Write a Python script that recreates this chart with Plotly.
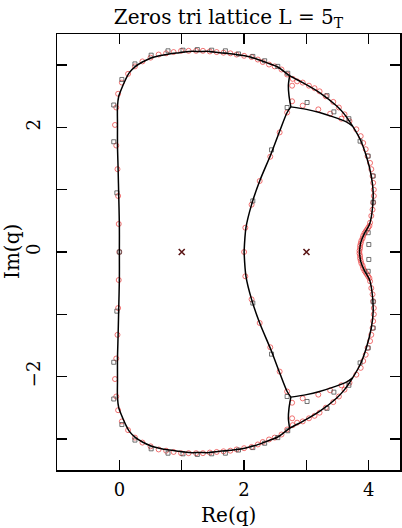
import plotly.graph_objects as go

# ---------------- data ----------------
# limiting curve, outer boundary: upper half and lower half
outer_x_up = [0.00, 0.00, -0.01, -0.02, -0.03, -0.03, -0.03, -0.01, 0.03, 0.10, 0.16, 0.26, 0.37, 0.50,
              0.64, 0.80, 0.96, 1.12, 1.29, 1.45, 1.61, 1.82, 2.01, 2.20, 2.36, 2.54, 2.73, 2.94, 3.21,
              3.49, 3.61, 3.74, 3.86, 3.96, 4.04, 4.07, 4.05, 4.01, 3.93, 3.87, 3.85]
outer_y_up = [0.00, 0.44, 0.89, 1.33, 1.71, 2.05, 2.34, 2.50, 2.61, 2.77, 2.88, 2.98, 3.05, 3.11,
              3.15, 3.18, 3.20, 3.22, 3.22, 3.22, 3.20, 3.18, 3.15, 3.10, 3.04, 2.97, 2.83, 2.72, 2.56,
              2.34, 2.21, 2.02, 1.81, 1.54, 1.22, 0.95, 0.63, 0.44, 0.30, 0.15, 0.00]
outer_x_dn = [0.00, 0.00, -0.01, -0.02, -0.03, -0.03, -0.03, -0.01, 0.03, 0.10, 0.16, 0.26, 0.37, 0.50,
              0.64, 0.80, 0.96, 1.12, 1.29, 1.45, 1.61, 1.82, 2.01, 2.20, 2.36, 2.54, 2.73, 2.94, 3.21,
              3.49, 3.61, 3.74, 3.86, 3.96, 4.04, 4.07, 4.05, 4.01, 3.93, 3.87, 3.85]
outer_y_dn = [0.00, -0.44, -0.89, -1.33, -1.71, -2.05, -2.34, -2.50, -2.61, -2.77, -2.88, -2.98, -3.05, -3.11,
              -3.15, -3.18, -3.20, -3.22, -3.22, -3.22, -3.20, -3.18, -3.15, -3.10, -3.04, -2.97, -2.83, -2.72, -2.56,
              -2.34, -2.21, -2.02, -1.81, -1.54, -1.22, -0.95, -0.63, -0.44, -0.30, -0.15, 0.00]

# inner branch (triple point down to the real axis)
inner_x_up = [2.75, 2.69, 2.57, 2.43, 2.25, 2.12, 2.03, 2.00]
inner_y_up = [2.33, 2.24, 1.94, 1.57, 1.14, 0.76, 0.39, 0.00]
inner_x_dn = [2.75, 2.69, 2.57, 2.43, 2.25, 2.12, 2.03, 2.00]
inner_y_dn = [-2.33, -2.24, -1.94, -1.57, -1.14, -0.76, -0.39, 0.00]

# triple point -> upper junction on the outer curve
ta_x_up = [2.75, 2.72, 2.71, 2.73]
ta_y_up = [2.33, 2.51, 2.67, 2.83]
ta_x_dn = [2.75, 2.72, 2.71, 2.73]
ta_y_dn = [-2.33, -2.51, -2.67, -2.83]

# triple point -> right junction on the outer curve
tb_x_up = [2.75, 3.00, 3.21, 3.43, 3.64, 3.74]
tb_y_up = [2.33, 2.29, 2.24, 2.17, 2.09, 2.02]
tb_x_dn = [2.75, 3.00, 3.21, 3.43, 3.64, 3.74]
tb_y_dn = [-2.33, -2.29, -2.24, -2.17, -2.09, -2.02]

# zeros, first size (red circles)
red_x = [0.00, -0.01, -0.02, -0.03, -0.05, -0.07, -0.05, -0.02, 0.04, 0.14, 0.25, 0.37, 0.50, 0.63, 0.75,
         0.87, 0.99, 1.11, 1.23, 1.34, 1.45, 1.56, 1.67, 1.78, 1.88, 2.00, 2.12, 2.22, 2.30, 2.40, 2.49,
         2.60, 2.69, 2.78, 2.85, 2.94, 3.04, 3.13, 3.21, 3.31, 3.43, 3.52, 3.61, 3.69, 3.80, 3.87, 3.91,
         3.95, 3.98, 4.02, 4.04, 4.06, 4.07, 4.08, 4.08, 4.07, 4.06, 4.04, 4.02,
         4.01, 3.99, 3.97, 3.95, 3.93, 3.91, 3.90, 3.88, 3.87, 3.86, 3.86, 3.85,
         2.77, 2.77, 2.94, 3.19, 3.38, 3.56,
         2.69, 2.57, 2.42, 2.25, 2.12, 2.02, 2.00,
         -0.01, -0.02, -0.03, -0.05, -0.07, -0.05, -0.02, 0.04, 0.14, 0.25, 0.37, 0.50, 0.63, 0.75,
         0.87, 0.99, 1.11, 1.23, 1.34, 1.45, 1.56, 1.67, 1.78, 1.88, 2.00, 2.12, 2.22, 2.30, 2.40, 2.49,
         2.60, 2.69, 2.78, 2.85, 2.94, 3.04, 3.13, 3.21, 3.31, 3.43, 3.52, 3.61, 3.69, 3.80, 3.87, 3.91,
         3.95, 3.98, 4.02, 4.04, 4.06, 4.07, 4.08, 4.08, 4.07, 4.06, 4.04, 4.02,
         4.01, 3.99, 3.97, 3.95, 3.93, 3.91, 3.90, 3.88, 3.87, 3.86, 3.86, 3.85,
         2.77, 2.77, 2.94, 3.19, 3.38, 3.56,
         2.69, 2.57, 2.42, 2.25, 2.12, 2.02]
red_y = [0.00, 0.45, 0.90, 1.33, 1.71, 2.04, 2.32, 2.54, 2.72, 2.86, 2.98, 3.06, 3.12, 3.17, 3.19,
         3.21, 3.23, 3.23, 3.23, 3.23, 3.22, 3.21, 3.20, 3.19, 3.17, 3.15, 3.13, 3.09, 3.05, 3.01, 2.98,
         2.93, 2.85, 2.78, 2.74, 2.72, 2.67, 2.63, 2.58, 2.50, 2.41, 2.32, 2.21, 2.10, 1.97, 1.86, 1.75,
         1.65, 1.54, 1.43, 1.33, 1.22, 1.11, 1.00, 0.90, 0.79, 0.68, 0.58, 0.47,
         0.42, 0.39, 0.36, 0.33, 0.30, 0.26, 0.22, 0.18, 0.14, 0.10, 0.06, 0.02,
         2.67, 2.42, 2.35, 2.29, 2.22, 2.14,
         2.24, 1.92, 1.53, 1.14, 0.76, 0.39, 0.00,
         -0.45, -0.90, -1.33, -1.71, -2.04, -2.32, -2.54, -2.72, -2.86, -2.98, -3.06, -3.12, -3.17, -3.19,
         -3.21, -3.23, -3.23, -3.23, -3.23, -3.22, -3.21, -3.20, -3.19, -3.17, -3.15, -3.13, -3.09, -3.05, -3.01, -2.98,
         -2.93, -2.85, -2.78, -2.74, -2.72, -2.67, -2.63, -2.58, -2.50, -2.41, -2.32, -2.21, -2.10, -1.97, -1.86, -1.75,
         -1.65, -1.54, -1.43, -1.33, -1.22, -1.11, -1.00, -0.90, -0.79, -0.68, -0.58, -0.47,
         -0.42, -0.39, -0.36, -0.33, -0.30, -0.26, -0.22, -0.18, -0.14, -0.10, -0.06, -0.02,
         -2.67, -2.42, -2.35, -2.29, -2.22, -2.14,
         -2.24, -1.92, -1.53, -1.14, -0.76, -0.39]

# zeros, second size (grey squares)
sq_x = [0.00, -0.04, -0.09, -0.09, 0.04, 0.25, 0.51, 0.78, 1.02, 1.25, 1.48, 1.70, 1.91, 2.14, 2.33,
        2.54, 2.70, 3.33, 3.68, 3.86, 3.99, 4.07, 4.07, 3.99, 4.00, 2.69, 3.01, 3.44, 2.44, 2.14,
        -0.04, -0.09, -0.09, 0.04, 0.25, 0.51, 0.78, 1.02, 1.25, 1.48, 1.70, 1.91, 2.14, 2.33,
        2.54, 2.70, 3.33, 3.68, 3.86, 3.99, 4.07, 4.07, 3.99, 4.00, 2.69, 3.01, 3.44, 2.44, 2.14]
sq_y = [0.00, 0.95, 1.77, 2.36, 2.77, 3.02, 3.16, 3.23, 3.24, 3.25, 3.24, 3.23, 3.18, 3.14, 3.07,
        2.98, 2.87, 2.51, 2.14, 1.78, 1.54, 1.22, 0.80, 0.31, 0.12, 2.32, 2.40, 2.25, 1.64, 0.82,
        -0.95, -1.77, -2.36, -2.77, -3.02, -3.16, -3.23, -3.24, -3.25, -3.24, -3.23, -3.18, -3.14, -3.07,
        -2.98, -2.87, -2.51, -2.14, -1.78, -1.54, -1.22, -0.80, -0.31, -0.12, -2.32, -2.40, -2.25, -1.64, -0.82]

# special points on the real axis
cross_x = [1.0, 3.0]
cross_y = [0.0, 0.0]

x_tickvals = [0, 2, 4]
x_ticktext = ['0', '2', '4']
y_tickvals = [-2, 0, 2]
y_ticktext = ['\u22122', '0', '2']

# ---------------- figure ----------------
FONT = "DejaVu Serif"
W, H = 402, 528
ML, MR, MT, MB = 57, 2, 34, 58
PW, PH = W - ML - MR, H - MT - MB

fig = go.Figure()

curves = [(outer_x_up, outer_y_up), (outer_x_dn, outer_y_dn),
          (inner_x_up, inner_y_up), (inner_x_dn, inner_y_dn),
          (ta_x_up, ta_y_up), (ta_x_dn, ta_y_dn),
          (tb_x_up, tb_y_up), (tb_x_dn, tb_y_dn)]

fig.add_trace(go.Scatter(x=red_x, y=red_y, mode='markers',
                         marker=dict(symbol='circle-open', size=5, color='rgba(235,60,60,0.8)',
                                     line=dict(width=0.9)),
                         showlegend=False, hoverinfo='skip'))
fig.add_trace(go.Scatter(x=sq_x, y=sq_y, mode='markers',
                         marker=dict(symbol='square-open', size=4, color='rgba(70,70,70,0.85)',
                                     line=dict(width=0.9)),
                         showlegend=False, hoverinfo='skip'))
for cx, cy in curves:
    fig.add_trace(go.Scatter(x=cx, y=cy, mode='lines',
                             line=dict(color='black', width=1.5, shape='spline', smoothing=0.8),
                             showlegend=False, hoverinfo='skip'))
fig.add_trace(go.Scatter(x=cross_x, y=cross_y, mode='markers',
                         marker=dict(symbol='x-thin-open', size=6, color='#5a1515',
                                     line=dict(width=1.6)),
                         showlegend=False, hoverinfo='skip'))

axis_common = dict(showgrid=False, zeroline=False, showline=True, linecolor='black', linewidth=1.5,
                   mirror='ticks', ticks='inside', ticklen=10, tickwidth=1.3, tickcolor='black',
                   automargin=False,
                   minor=dict(dtick=1, ticks='inside', ticklen=10, tickwidth=1.3, tickcolor='black',
                              showgrid=False),
                   tickfont=dict(family=FONT, size=18, color='black'))

fig.update_layout(
    width=W, height=H,
    margin=dict(l=ML, r=MR, t=MT, b=MB, autoexpand=False),
    paper_bgcolor='white', plot_bgcolor='white',
    title=dict(text='Zeros tri lattice L = 5<sub>T</sub>', x=0.5, xref='paper',
               y=1 - 17 / H, yref='container', yanchor='middle', xanchor='center',
               automargin=False,
               font=dict(family=FONT, size=20, color='black')),
    xaxis=dict(range=[-1, 4.5], tickvals=x_tickvals, ticktext=x_ticktext,
               ticklabelstandoff=3, **axis_common),
    yaxis=dict(range=[-3.5, 3.5], tickvals=y_tickvals, ticktext=y_ticktext, tickangle=-90,
               ticklabelstandoff=8, **axis_common),
    annotations=[
        dict(text='Re(q)', x=0.5, xref='paper', y=(H - MB - 515) / PH, yref='paper',
             yanchor='middle', xanchor='center',
             showarrow=False, font=dict(family=FONT, size=20, color='black')),
        dict(text='Im(q)', x=(12 - ML) / PW, xref='paper', y=0.5, yref='paper',
             xanchor='center', yanchor='middle',
             showarrow=False, textangle=-90, font=dict(family=FONT, size=20, color='black')),
    ],
)

fig.write_html("out.html",
               config={'displayModeBar': False, 'staticPlot': True},
               post_script="document.body.style.margin='0';document.body.style.padding='0';"
                           "document.documentElement.style.overflow='hidden';")
